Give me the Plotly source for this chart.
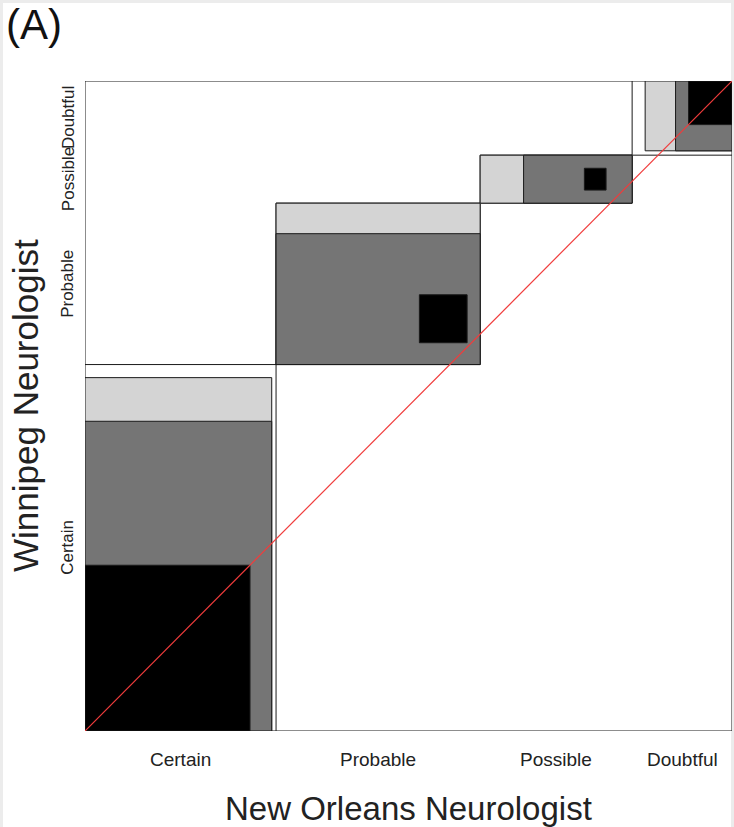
import plotly.graph_objects as go

# Agreement chart data: rows = New Orleans neurologist (x axis), cols = Winnipeg neurologist (y axis)
categories = ["Certain", "Probable", "Possible", "Doubtful"]
no_certain = [38, 5, 0, 1]
no_probable = [33, 11, 3, 0]
no_possible = [10, 14, 5, 6]
no_doubtful = [3, 7, 3, 10]
weights = [1.0, 8 / 9, 5 / 9]

counts = [no_certain, no_probable, no_possible, no_doubtful]
K = len(categories)
total = sum(sum(r) for r in counts)
col_tot = [sum(counts[o]) for o in range(K)]                    # widths (x)
row_tot = [sum(counts[o][w] for o in range(K)) for w in range(K)]  # heights (y)
x0 = [sum(col_tot[:i]) for i in range(K)]
y0 = [sum(row_tot[:i]) for i in range(K)]


def gray(level):
    v = int(round(level * 255))
    return f"rgb({v},{v},{v})"


fills = [gray((1 - w ** 2) ** 0.5) for w in weights]
LINE = "#1a1a1a"
shapes = []
# outer frame
shapes.append(dict(type="rect", xref="x", yref="y", x0=0, y0=0, x1=total, y1=total,
                   line=dict(color=LINE, width=1), fillcolor="white", layer="below"))
for i in range(K):
    shapes.append(dict(type="rect", xref="x", yref="y", x0=x0[i], y0=y0[i],
                       x1=x0[i] + col_tot[i], y1=y0[i] + row_tot[i],
                       line=dict(color=LINE, width=1), fillcolor="white"))
    for b in range(len(weights) - 1, -1, -1):
        lo = max(0, i - b)
        hi = min(K - 1, i + b)
        xs = x0[i] + sum(counts[i][w] for w in range(lo))
        wd = sum(counts[i][w] for w in range(lo, hi + 1))
        ys = y0[i] + sum(counts[o][i] for o in range(lo))
        ht = sum(counts[o][i] for o in range(lo, hi + 1))
        if wd <= 0 or ht <= 0:
            continue
        shapes.append(dict(type="rect", xref="x", yref="y", x0=xs, y0=ys,
                           x1=xs + wd, y1=ys + ht,
                           line=dict(color=LINE, width=1), fillcolor=fills[b]))

# diagonal reference line (on top)
shapes.append(dict(type="line", xref="x", yref="y", x0=0, y0=0, x1=total, y1=total,
                   line=dict(color="rgb(240,60,60)", width=1.2)))

# page background frame (light grey border of the original image)
W, H = 734, 827
L, R, T, B = 85, 2, 81, 96
pw, ph = W - L - R, H - T - B


def px_to_paper_x(px):
    return (px - L) / pw


def px_to_paper_y(py):
    return 1 - (py - T) / ph


shapes.insert(0, dict(type="rect", xref="paper", yref="paper",
                      x0=px_to_paper_x(3), x1=px_to_paper_x(731),
                      y0=px_to_paper_y(827), y1=px_to_paper_y(3),
                      line=dict(width=0), fillcolor="white", layer="below"))

fig = go.Figure()
fig.add_trace(go.Scatter(x=[0, total], y=[0, total], mode="lines",
                         line=dict(color="rgba(0,0,0,0)", width=0),
                         hoverinfo="skip", showlegend=False))

FONT = "Liberation Sans, Arial, Helvetica, sans-serif"
ann = []
for i in range(K):
    ann.append(dict(x=x0[i] + col_tot[i] / 2, y=0, xref="x", yref="y",
                    text=categories[i], showarrow=False, yanchor="top", yshift=-16,
                    font=dict(family=FONT, size=19, color="#222")))
    ann.append(dict(x=0, y=y0[i] + row_tot[i] / 2, xref="x", yref="y",
                    text=categories[i], showarrow=False, textangle=-90,
                    xanchor="center", yanchor="middle", xshift=-17,
                    font=dict(family=FONT, size=17, color="#222")))
ann.append(dict(x=0.5, y=px_to_paper_y(808), xref="paper", yref="paper",
                text="New Orleans Neurologist", showarrow=False,
                xanchor="center", yanchor="middle",
                font=dict(family=FONT, size=33, color="#222")))
ann.append(dict(x=px_to_paper_x(25), y=0.5, xref="paper", yref="paper",
                text="Winnipeg Neurologist", showarrow=False, textangle=-90,
                xanchor="center", yanchor="middle",
                font=dict(family=FONT, size=35, color="#222")))
ann.append(dict(x=px_to_paper_x(4), y=px_to_paper_y(25), xref="paper", yref="paper",
                text="(A)", showarrow=False, xanchor="left", yanchor="middle",
                font=dict(family=FONT, size=42, color="#111")))

fig.update_layout(
    width=W, height=H,
    margin=dict(l=L, r=R, t=T, b=B, pad=0),
    paper_bgcolor="#ececec", plot_bgcolor="white",
    shapes=shapes, annotations=ann,
    xaxis=dict(range=[0, total], visible=False, fixedrange=True),
    yaxis=dict(range=[0, total], visible=False, fixedrange=True),
    showlegend=False,
)

fig.write_html("out.html", config={"displayModeBar": False},
               post_script="document.body.style.margin='0';")
